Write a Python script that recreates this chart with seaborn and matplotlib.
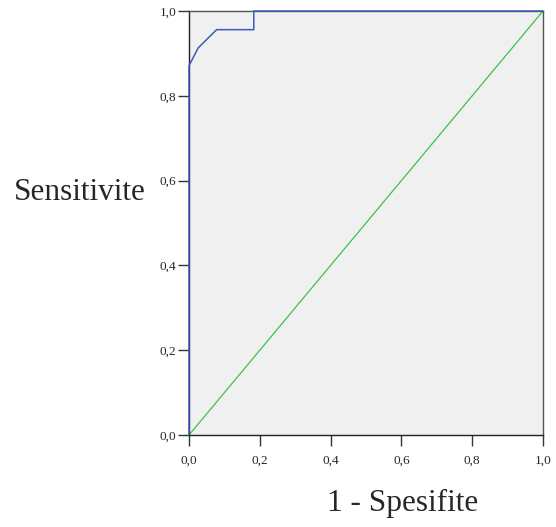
from matplotlib import pyplot as plt
import seaborn as sns
import pandas as pd
import numpy as np

sns.set_style('white')
plt.rcParams['font.family'] = ['Liberation Serif', 'DejaVu Serif']

# ROC curve points
fpr = [0.0, 0.0, 0.026, 0.078, 0.183, 0.183, 1.0]
tpr = [0.0, 0.871, 0.913, 0.956, 0.956, 1.0, 1.0]
ref = [0.0, 1.0]
ticks = [0.0, 0.2, 0.4, 0.6, 0.8, 1.0]
tick_labels = ['0,0', '0,2', '0,4', '0,6', '0,8', '1,0']

roc = pd.DataFrame({'fpr': fpr, 'tpr': tpr})
diag = pd.DataFrame({'x': ref, 'y': ref})

fig = plt.figure(figsize=(5.56, 5.27), dpi=100)
ax = fig.add_axes([189 / 556, 92 / 527, 354 / 556, 424 / 527])
ax.set_facecolor('#f0f0f0')

sns.lineplot(x='x', y='y', data=diag, color='#3cc24a', lw=0.9, ax=ax)
sns.lineplot(x='fpr', y='tpr', data=roc, sort=False, estimator=None,
             color='#3b5bc0', lw=1.1, ax=ax, zorder=5, clip_on=False)

ax.set_xlim(0, 1)
ax.set_ylim(0, 1)
ax.set_xticks(ticks)
ax.set_yticks(ticks)
ax.set_xticklabels(tick_labels)
ax.set_yticklabels(tick_labels)
ax.tick_params(axis='both', direction='out', length=8, width=1, color='#333333',
               labelsize=9.5, bottom=True, left=True)
ax.tick_params(axis='x', pad=6)
ax.tick_params(axis='y', pad=1)
for side in ['top', 'right']:
    ax.spines[side].set_color('#555555')
for side in ['bottom', 'left']:
    ax.spines[side].set_color('#222222')
for s in ax.spines.values():
    s.set_linewidth(1.0)

ax.set_xlabel('')
ax.set_ylabel('')
fig.text(146 / 556, 1 - 200 / 527, 'Sensitivite', fontsize=22.5, ha='right', va='baseline')
fig.text(403 / 556, 1 - 511 / 527, '1 - Spesifite', fontsize=22.5, ha='center', va='baseline')

fig.savefig('out.png', dpi=100)
